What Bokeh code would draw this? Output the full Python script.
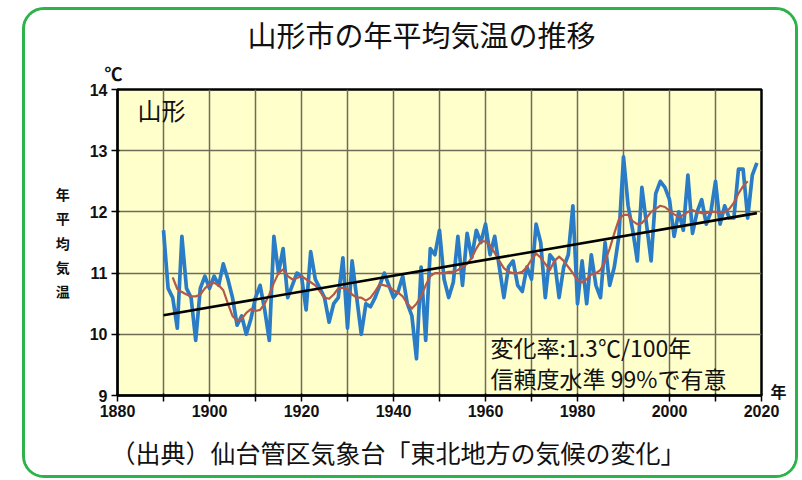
from bokeh.plotting import figure
from bokeh.models import Label, FixedTicker, Range1d, Title, LinearAxis
from bokeh.embed import file_html
from bokeh.resources import INLINE

# ---- data ----
years = list(range(1890, 2020))
annual_temp = [
    11.70, 10.75, 10.60, 10.10, 11.60, 10.75, 10.60, 9.90, 10.75, 10.95,
    10.75, 10.95, 10.80, 11.15, 10.90, 10.60, 10.15, 10.30, 10.00, 10.25,
    10.60, 10.80, 10.40, 9.90, 11.60, 11.00, 11.40, 10.60, 10.80, 11.00,
    10.95, 10.40, 11.35, 10.90, 10.75, 10.60, 10.20, 10.50, 10.60, 11.25,
    10.10, 11.20, 10.60, 10.00, 10.50, 10.45, 10.60, 10.80, 11.00, 10.80,
    10.60, 10.70, 10.95, 10.50, 10.30, 9.60, 11.10, 9.90, 11.40, 11.30,
    11.70, 10.90, 10.60, 10.85, 11.60, 10.80, 11.65, 11.25, 11.70, 11.50,
    11.80, 11.30, 11.60, 11.10, 10.60, 11.10, 11.20, 10.80, 10.70, 11.10,
    10.90, 11.80, 11.50, 10.60, 11.30, 11.20, 10.60, 11.10, 11.30, 12.10,
    10.50, 11.20, 10.50, 11.30, 10.80, 10.60, 11.50, 10.80, 11.10, 11.60,
    12.90, 12.10, 11.70, 11.20, 12.40, 11.80, 11.20, 12.30, 12.50, 12.40,
    12.20, 11.60, 12.00, 11.70, 12.60, 11.65, 12.00, 12.20, 11.80, 12.00,
    12.50, 11.80, 12.10, 11.90, 11.90, 12.70, 12.70, 11.90, 12.60, 12.80,
]
mean5_years = list(range(1892, 2018))
mean5_temp = [
    10.93, 10.74, 10.69, 10.65, 10.62, 10.62, 10.65, 10.75,
    10.82, 10.84, 10.80, 10.72, 10.50, 10.30, 10.22, 10.25, 10.35, 10.41,
    10.38, 10.40, 10.50, 10.65, 10.84, 11.00, 11.06, 10.95, 10.90, 10.92,
    10.95, 10.90, 10.85, 10.80, 10.70, 10.60, 10.58, 10.65, 10.75, 10.76,
    10.74, 10.65, 10.60, 10.60, 10.55, 10.60, 10.70, 10.82, 10.80, 10.78,
    10.72, 10.68, 10.62, 10.50, 10.42, 10.50, 10.62, 10.80, 10.95, 11.00,
    11.00, 11.00, 11.02, 11.02, 11.05, 11.10, 11.15, 11.25, 11.40, 11.52,
    11.52, 11.45, 11.33, 11.20, 11.08, 11.02, 11.00, 11.00, 11.02, 11.10,
    11.22, 11.32, 11.25, 11.15, 11.05, 11.20, 11.27, 11.20, 11.10, 11.00,
    10.88, 10.85, 10.90, 10.98, 11.00, 11.05, 11.20, 11.40, 11.65, 11.88,
    11.95, 11.95, 11.85, 11.80, 11.82, 11.90, 12.00, 12.05, 12.10, 12.08,
    12.02, 11.96, 11.92, 11.95, 12.00, 12.03, 12.00, 11.98, 11.98, 12.00,
    12.00, 11.98, 12.00, 12.05, 12.15, 12.30, 12.42, 12.50,
]
trend_years = [1890, 2019]
trend_temp = [10.31, 11.98]

x_ticks = list(range(1880, 2021, 10))
x_tick_labels = ["1880", "", "1900", "", "1920", "", "1940", "", "1960", "",
                 "1980", "", "2000", "", "2020"]
y_ticks = [9, 10, 11, 12, 13, 14]
y_tick_labels = ["9", "10", "11", "12", "13", "14"]

title_text = "山形市の年平均気温の推移"
station_text = "山形"
rate_text = "変化率:1.3℃/100年"
signif_text = "信頼度水準 99%で有意"
source_text = "（出典）仙台管区気象台「東北地方の気候の変化」"
unit_text = "℃"
ylabel_text = "年\n平\n均\n気\n温"
xunit_text = "年"

JP = "Noto Sans CJK JP"
NUM = "Liberation Sans"
INK = "#111111"

p = figure(width=776, height=471, output_backend="svg", toolbar_location=None,
           x_range=Range1d(1880, 2020), y_range=Range1d(9, 14),
           min_border_left=92, min_border_right=40,
           min_border_top=78, min_border_bottom=84)
p.styles = {"margin-left": "22px", "margin-top": "7px",
            "border": "3px solid #2DB34A", "border-radius": "22px",
            "overflow": "hidden"}

p.background_fill_color = "#FFFFCC"
p.border_fill_color = "white"
p.outline_line_color = "black"
p.outline_line_width = 2.5

p.xaxis.ticker = FixedTicker(ticks=x_ticks)
p.yaxis.ticker = FixedTicker(ticks=y_ticks)
p.xaxis.major_label_overrides = {t: l for t, l in zip(x_ticks, x_tick_labels)}
p.yaxis.major_label_overrides = {t: l for t, l in zip(y_ticks, y_tick_labels)}
for ax in (p.xaxis, p.yaxis):
    ax.minor_tick_line_color = None
    ax.major_tick_line_color = "black"
    ax.major_tick_line_width = 1.5
    ax.major_tick_out = 6
    ax.major_tick_in = 2
    ax.axis_line_color = "black"
    ax.axis_line_width = 2
    ax.major_label_text_font = NUM
    ax.major_label_text_font_style = "bold"
    ax.major_label_text_font_size = "16px"
    ax.major_label_text_color = INK
p.xaxis.major_label_standoff = 3
p.yaxis.major_label_standoff = 4

# vertical axis label, stacked characters
p.yaxis.axis_label = ylabel_text
p.yaxis.axis_label_orientation = "horizontal"
p.yaxis.axis_label_text_font = JP
p.yaxis.axis_label_text_font_style = "bold"
p.yaxis.axis_label_text_font_size = "14px"
p.yaxis.axis_label_text_line_height = 1.22
p.yaxis.axis_label_standoff = 17
p.yaxis.axis_label_text_color = INK

# unit "年" at the right end of the time axis
year_unit_axis = LinearAxis(ticker=FixedTicker(ticks=[9.08]),
                            major_label_overrides={9.08: xunit_text},
                            axis_line_color=None, major_tick_line_color=None,
                            minor_tick_line_color=None, major_tick_out=0,
                            major_tick_in=0, major_label_standoff=9,
                            major_label_text_font=JP,
                            major_label_text_font_style="bold",
                            major_label_text_font_size="16px",
                            major_label_text_color=INK)
p.add_layout(year_unit_axis, "right")

p.xgrid.grid_line_color = "#6F6B55"
p.ygrid.grid_line_color = "#6F6B55"
p.xgrid.grid_line_width = 1.5
p.ygrid.grid_line_width = 1.5

p.line(years, annual_temp, line_color="#2A7CC6", line_width=3.7, line_join="round")
p.line(mean5_years, mean5_temp, line_color="#B5584C", line_width=2.2, line_join="round")
p.line(trend_years, trend_temp, line_color="black", line_width=2.6)

# titles in the panels around the plot
p.add_layout(Title(text=unit_text, align="left", offset=-13, standoff=7,
                   text_font=JP, text_font_size="18px", text_font_style="bold",
                   text_color=INK), "above")
p.title.text = title_text
p.title.align = "left"
p.title.offset = 130
p.title.text_font = JP
p.title.text_font_size = "29px"
p.title.text_font_style = "normal"
p.title.text_color = INK
p.title.standoff = 0

p.add_layout(Title(text=source_text, align="left", offset=-7, standoff=24,
                   text_font=JP, text_font_size="25px", text_font_style="normal",
                   text_color=INK), "below")

# texts inside the plot area
p.add_layout(Label(x=1884.35, y=13.68, text=station_text, text_font=JP,
                   text_font_size="24px", text_align="left",
                   text_baseline="middle", text_color=INK))
p.add_layout(Label(x=1961.1, y=9.80, text=rate_text, text_font=JP,
                   text_font_size="23px", text_align="left",
                   text_baseline="middle", text_color=INK))
p.add_layout(Label(x=1961.1, y=9.28, text=signif_text, text_font=JP,
                   text_font_size="23px", text_align="left",
                   text_baseline="middle", text_color=INK))

open("out.html", "w").write(file_html(p, INLINE))
